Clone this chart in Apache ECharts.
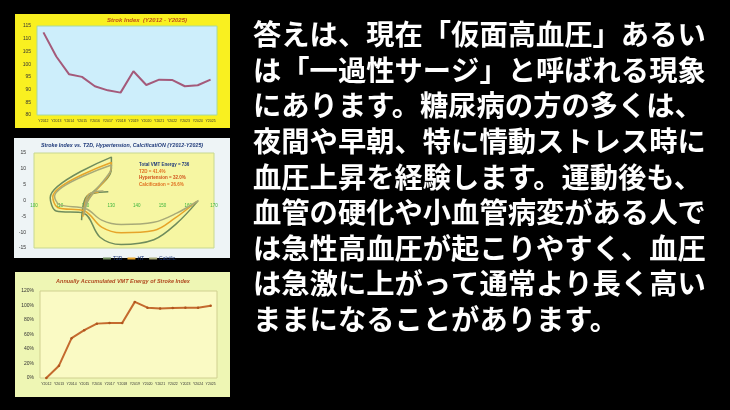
<!DOCTYPE html>
<html>
<head>
<meta charset="utf-8">
<script src="https://cdn.jsdelivr.net/npm/echarts@6/dist/echarts.min.js"></script>
<style>html,body{margin:0;padding:0;background:#000;}#c{width:730px;height:410px;}</style>
</head>
<body>
<div id="c"></div>
<script>
// ---- data ----
const years = ['Y2012','Y2013','Y2014','Y2015','Y2016','Y2017','Y2018','Y2019','Y2020','Y2021','Y2022','Y2023','Y2024','Y2025'];
const strokeIndex = [112.5, 103, 96, 95, 91.3, 89.7, 88.8, 97.2, 91.8, 93.9, 93.8, 91.3, 91.7, 93.9];
const accumEnergy = [0, 17, 55, 66, 75, 76, 76, 105, 97, 96, 96.5, 97, 97, 99.5];
const t2dPts = [[163.7,-0.2],[155.4,-7.3],[146.6,-12.4],[133.9,-13.9],[125.7,-11.6],[119.4,-4.0],[108.6,-3.3],[106.3,0.9],[130.1,13.7],[130.1,10.1],[120.0,-0.2],[118.5,-6.2],[120.6,1.4],[128.9,2.8]];
const htPts = [[163.1,-0.4],[154.8,-5.6],[146.6,-9.5],[133.9,-10.2],[126.3,-8.4],[119.7,-3.3],[109.2,-2.2],[107.3,1.1],[130.1,12.0],[129.9,9.6],[120.6,-0.2],[119.0,-5.1],[121.0,1.7],[125.1,2.6]];
const calcPts = [[164.0,0.0],[155.5,-4.0],[146.6,-6.9],[133.9,-7.6],[126.3,-6.2],[120.2,-2.6],[109.9,-1.3],[108.0,1.3],[130.1,11.2],[129.6,9.0],[121.3,0.3],[119.4,-4.6],[121.5,2.0],[127.0,3.0]];
const seriesNames = ['T2D','HT','Calcific.'];
const energyNotes = ['Total VMT Energy = 736','T2D = 41.4%','Hypertension = 32.0%','Calcification = 26.6%'];
const titles = ['Strok Index  (Y2012 - Y2025)','Stroke Index vs. T2D, Hypertension, CalcificatiON (Y2012-Y2025)','Annually Accumulated VMT Energy of Stroke Index'];
const textLines = [
  '答えは、現在「仮面高血圧」あるい',
  'は「一過性サージ」と呼ばれる現象',
  'にあります。糖尿病の方の多くは、',
  '夜間や早朝、特に情動ストレス時に',
  '血圧上昇を経験します。運動後も、',
  '血管の硬化や小血管病変がある人で',
  'は急性高血圧が起こりやすく、血圧',
  'は急激に上がって通常より長く高い',
  'ままになることがあります。'
];

// ---- chart ----
const chart = echarts.init(document.getElementById('c'), null, {renderer:'canvas'});
const smallLbl = {fontSize:5, color:'#333', fontFamily:'Liberation Sans'};
const graphics = [
  {type:'rect', z:-10, shape:{x:15,y:14,width:215,height:114}, style:{fill:'#f9f020'}},
  {type:'rect', z:-10, shape:{x:14,y:138,width:216,height:120}, style:{fill:'#eef4f6'}},
  {type:'rect', z:-10, shape:{x:15,y:272,width:215,height:125}, style:{fill:'#eef6b4'}},
  {type:'text', style:{text:titles[0], x:147, y:20, fill:'#c0501a', font:'italic bold 6px "Liberation Sans"', align:'center', verticalAlign:'middle'}},
  {type:'text', style:{text:titles[1], x:122, y:146, fill:'#1f3a7a', font:'italic bold 5.3px "Liberation Sans"', align:'center', verticalAlign:'middle'}},
  {type:'text', style:{text:titles[2], x:123, y:281, fill:'#b04a20', font:'italic bold 5.5px "Liberation Sans"', align:'center', verticalAlign:'middle'}}
];
const noteColors = ['#1f3a7a','#e07020','#d0501a','#e07020'];
energyNotes.forEach((t,i)=>{
  graphics.push({type:'text', style:{text:t, x:139, y:165+i*6.5, fill:noteColors[i], font:'bold 4.5px "Liberation Sans"', verticalAlign:'middle'}});
});
textLines.forEach((t,i)=>{
  graphics.push({type:'text', style:{text:t, x:253, y:34.5+i*35.6, fill:'#ffffff', font:'bold 28.3px "Noto Sans CJK JP"', verticalAlign:'middle'}});
});

const option = {
  backgroundColor:'#000',
  animation:false,
  graphic: graphics,
  grid:[
    {left:37, top:26, width:180, height:89, show:true, backgroundColor:'#cdeefb', borderColor:'#a8d8a0', borderWidth:1},
    {left:34, top:153, width:180, height:95, show:true, backgroundColor:'#f6f6a2', borderColor:'#c8d890', borderWidth:1},
    {left:40, top:291, width:177, height:87, show:true, backgroundColor:'#fafac4', borderColor:'#d0d090', borderWidth:1}
  ],
  xAxis:[
    {gridIndex:0, type:'category', data:years, boundaryGap:true, axisLine:{show:false}, axisTick:{show:false}, axisLabel:{fontSize:3.5, color:'#333', margin:4, interval:0}},
    {gridIndex:1, type:'value', min:100, max:170, interval:10, position:'bottom', offset:-47.5, axisLine:{show:false, onZero:false}, axisTick:{show:false}, splitLine:{show:false}, axisLabel:{fontSize:4.5, color:'#3cb43c', margin:3, formatter:(v)=>String(v)}},
    {gridIndex:2, type:'category', data:years, boundaryGap:true, axisLine:{show:false}, axisTick:{show:false}, axisLabel:{fontSize:3.5, color:'#333', margin:4, interval:0}}
  ],
  yAxis:[
    {gridIndex:0, type:'value', min:80, max:115, interval:5, axisLine:{show:false}, axisTick:{show:false}, splitLine:{show:false}, axisLabel:Object.assign({margin:6}, smallLbl)},
    {gridIndex:1, type:'value', min:-15, max:15, interval:5, axisLine:{show:false, onZero:false}, axisTick:{show:false}, splitLine:{show:false}, axisLabel:Object.assign({margin:8}, smallLbl)},
    {gridIndex:2, type:'value', min:0, max:120, interval:20, axisLine:{show:false}, axisTick:{show:false}, splitLine:{show:false}, axisLabel:Object.assign({margin:6, formatter:'{value}%'}, smallLbl)}
  ],
  legend:{
    left:98, top:251, itemWidth:8, itemHeight:2, itemGap:5, icon:'rect',
    textStyle:{fontSize:5, color:'#1f3a7a', fontFamily:'Liberation Sans', padding:[0,0,0,-3]},
    data:seriesNames
  },
  series:[
    {type:'line', xAxisIndex:0, yAxisIndex:0, data:strokeIndex, symbol:'none', lineStyle:{color:'#a45a7a', width:2}, itemStyle:{color:'#a45a7a'}},
    {name:seriesNames[0], type:'line', xAxisIndex:1, yAxisIndex:1, data:t2dPts, smooth:0.35, symbol:'none', lineStyle:{color:'#6f8c5c', width:1.5}, itemStyle:{color:'#6f8c5c'}},
    {name:seriesNames[1], type:'line', xAxisIndex:1, yAxisIndex:1, data:htPts, smooth:0.35, symbol:'none', lineStyle:{color:'#e6a42a', width:1.5}, itemStyle:{color:'#e6a42a'}},
    {name:seriesNames[2], type:'line', xAxisIndex:1, yAxisIndex:1, data:calcPts, smooth:0.35, symbol:'none', lineStyle:{color:'#a8aa78', width:1.5}, itemStyle:{color:'#a8aa78'}},
    {type:'line', xAxisIndex:2, yAxisIndex:2, data:accumEnergy, symbol:'circle', symbolSize:2.5, lineStyle:{color:'#c46a2e', width:2}, itemStyle:{color:'#b0561e'}}
  ]
};
chart.setOption(option);
</script>
</body>
</html>
